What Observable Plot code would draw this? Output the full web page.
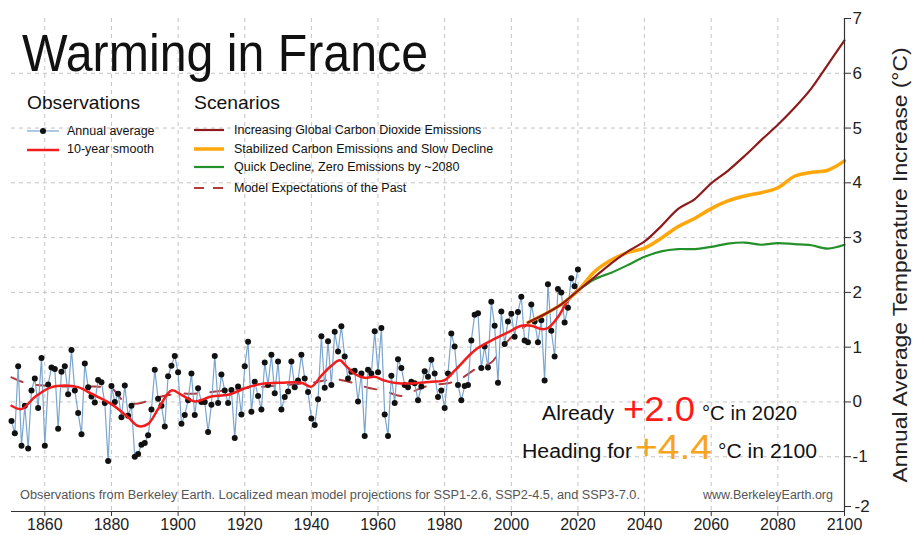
<!DOCTYPE html>
<html><head><meta charset="utf-8">
<script src="https://cdn.jsdelivr.net/npm/d3@7"></script>
<script src="https://cdn.jsdelivr.net/npm/@observablehq/plot@0.6"></script>
<style>
body{margin:0;background:#fff;font-family:"Liberation Sans",Arial,sans-serif}
#wrap{position:relative;width:914px;height:535px;overflow:hidden}
#wrap svg{position:absolute;left:0;top:0}
</style></head><body><div id="wrap"></div>
<script>
// ---------- data ----------
const obsStart = 1850;
const obsValues = [
  -0.35,-0.57,0.65,-0.80,-0.07,-0.85,0.21,0.43,-0.11,0.80,
  -0.80,0.32,0.63,0.60,-0.49,0.55,0.65,0.14,0.95,0.21,
  -0.20,-0.59,0.70,0.27,0.10,-0.01,0.40,0.36,-0.02,-1.08,
  0.29,0.00,0.15,-0.28,0.30,-0.25,-0.07,-1.00,-0.95,-0.78,
  -0.75,-0.61,-0.14,0.59,0.06,-0.07,-0.45,0.47,0.66,0.84,
  0.54,-0.40,-0.24,0.03,0.52,-0.24,0.25,0.00,0.00,-0.55,
  -0.05,0.84,-0.02,0.50,0.21,-0.02,0.22,-0.66,0.28,-0.23,
  0.65,1.10,-0.18,0.37,0.11,-0.14,0.72,0.31,0.86,0.16,
  0.74,-0.14,0.09,0.19,0.74,0.27,0.39,0.86,0.43,0.18,
  -0.30,-0.42,0.05,1.20,0.26,1.11,0.31,1.28,0.92,1.38,
  0.83,0.43,0.55,0.57,0.01,0.52,-0.62,0.59,0.52,1.29,
  0.54,1.35,-0.23,-0.62,0.48,-0.02,0.78,0.62,0.31,0.27,
  0.37,0.34,0.03,0.28,0.56,0.46,0.77,0.52,0.09,0.21,
  -0.11,0.52,1.25,1.01,0.31,0.03,0.29,0.31,1.12,1.59,
  1.62,0.62,1.01,0.63,1.83,1.39,0.35,1.65,1.06,1.47,
  1.61,1.19,1.64,1.92,1.12,1.09,1.78,1.47,1.09,1.49,
  0.39,2.15,1.30,0.83,2.06,2.00,1.45,1.72,2.26,2.11,
  2.42
];
const smoothYears  = [1850,1853,1857,1862,1866,1870,1874,1880,1885,1888,1891,1894,1898,1901,1905,1910,1915,1921,1925,1931,1937,1940,1943,1946,1948.5,1950.5,1953,1956,1959,1962,1966,1971,1976,1980,1983,1989,1994,1999,2003,2006,2009,2011,2014,2017,2020];
const smoothValues = [-0.07,-0.13,0.09,0.27,0.30,0.27,0.15,-0.04,-0.28,-0.44,-0.40,-0.13,0.21,0.13,0.01,0.10,0.13,0.27,0.33,0.35,0.35,0.28,0.48,0.66,0.76,0.65,0.51,0.44,0.46,0.39,0.34,0.34,0.37,0.40,0.57,0.94,1.12,1.27,1.39,1.39,1.33,1.35,1.55,1.85,2.05];
const pastYears  = [1850,1855,1860,1865,1870,1875,1880,1883,1885,1888,1891,1895,1900,1905,1910,1920,1930,1940,1945,1948,1953,1957,1962,1967,1972,1976,1981,1985,1990,1994,1997,2000,2005];
const pastValues = [0.45,0.33,0.30,0.28,0.29,0.28,0.25,0.05,-0.02,-0.03,0.02,0.10,0.15,0.15,0.18,0.25,0.30,0.35,0.40,0.41,0.34,0.26,0.20,0.11,0.23,0.31,0.34,0.43,0.63,0.72,0.97,1.18,1.42];
const scenarioYears = [2005,2010,2015,2020,2025,2030,2035,2040,2045,2050,2055,2060,2065,2070,2075,2080,2085,2090,2095,2100];
const ssp370 = [1.45,1.60,1.78,2.03,2.28,2.53,2.75,2.93,3.21,3.52,3.70,3.99,4.22,4.49,4.78,5.06,5.37,5.72,6.16,6.60];
const ssp245 = [1.45,1.60,1.78,2.03,2.38,2.59,2.73,2.81,2.99,3.20,3.35,3.53,3.67,3.76,3.82,3.91,4.12,4.19,4.23,4.40];
const ssp126 = [1.45,1.60,1.78,2.03,2.24,2.36,2.50,2.65,2.75,2.79,2.79,2.83,2.89,2.91,2.87,2.90,2.88,2.86,2.80,2.87];
const xTicks = [1860,1880,1900,1920,1940,1960,1980,2000,2020,2040,2060,2080,2100];
const yTicks = [-2,-1,0,1,2,3,4,5,6,7];
const legendObs = ["Annual average","10-year smooth"];
const legendScen = ["Increasing Global Carbon Dioxide Emissions","Stabilized Carbon Emissions and Slow Decline","Quick Decline, Zero Emissions by ~2080","Model Expectations of the Past"];

// ---------- tables ----------
const obs = obsValues.map((v,i)=>({year: obsStart+i, value: v}));
const smooth = smoothYears.map((y,i)=>({year:y, value:smoothValues[i]}));
const past = pastYears.map((y,i)=>({year:y, value:pastValues[i]}));
const scen = (arr)=>scenarioYears.map((y,i)=>({year:y, value:arr[i]}));

const C = {blue:"#7aa5cf", red:"#f21c1c", dark:"#8e1b1b", orange:"#ffa60a", green:"#23902a", past:"#b3393a"};
const font = "Liberation Sans, Arial, sans-serif";

const chart = Plot.plot({
  width: 914, height: 535,
  marginLeft: 11, marginRight: 70, marginTop: 18, marginBottom: 24,
  style: {fontFamily: font, fontSize: "16px", background: "transparent", color: "#222"},
  x: {domain: [1850, 2100], label: null},
  y: {domain: [-2, 7], label: null},
  marks: [
    Plot.gridX(xTicks.slice(0, -1), {stroke: "#c4c4c4", strokeOpacity: 1, strokeDasharray: "4,4"}),
    Plot.gridY(yTicks.slice(1, -1), {stroke: "#c4c4c4", strokeOpacity: 1, strokeDasharray: "4,4"}),
    Plot.line(past, {x: "year", y: "value", stroke: C.past, strokeWidth: 2, strokeDasharray: "12,14", curve: "catmull-rom"}),
    Plot.line(obs, {x: "year", y: "value", stroke: C.blue, strokeWidth: 1.2}),
    Plot.dot(obs, {x: "year", y: "value", r: 3, fill: "#111", stroke: "none"}),
    Plot.line(smooth, {x: "year", y: "value", stroke: C.red, strokeWidth: 2.5, curve: "catmull-rom"}),
    Plot.line(scen(ssp126), {x: "year", y: "value", stroke: C.green, strokeWidth: 2.2, curve: "catmull-rom"}),
    Plot.line(scen(ssp245), {x: "year", y: "value", stroke: C.orange, strokeWidth: 3.5, curve: "catmull-rom"}),
    Plot.line(scen(ssp370), {x: "year", y: "value", stroke: C.dark, strokeWidth: 2.2, curve: "catmull-rom"}),
    Plot.ruleY([-2], {stroke: "#333", strokeWidth: 1.2}),
    Plot.ruleX([2100], {stroke: "#333", strokeWidth: 1.2}),
    Plot.axisX({ticks: xTicks, tickSize: 5, tickPadding: 2, tickFormat: d => String(d), label: null, fontSize: 16, stroke: "#333"}),
    Plot.axisY({anchor: "right", ticks: yTicks.slice(1), tickSize: 6, tickPadding: 2, tickFormat: d => String(d), label: null, fontSize: 17, stroke: "#333"}),
    Plot.axisY({anchor: "right", ticks: yTicks.slice(0, 1), tickSize: 6, tickPadding: 4, dy: -5, tickFormat: d => String(d), label: null, fontSize: 17, stroke: "#333"})
  ]
});
const wrap = document.getElementById("wrap");
wrap.appendChild(chart);

// ---------- overlay: title, legend, notes ----------
const svg = d3.select(wrap).append("svg").attr("width", 914).attr("height", 535)
  .style("font-family", font).style("pointer-events", "none");
function txt(s, x, y, size, opts = {}) {
  const t = svg.append("text").attr("x", x).attr("y", y).attr("font-size", size)
    .attr("fill", opts.fill || "#111").text(s);
  if (opts.len) t.attr("textLength", opts.len).attr("lengthAdjust", "spacingAndGlyphs");
  if (opts.anchor) t.attr("text-anchor", opts.anchor);
  if (opts.transform) t.attr("transform", opts.transform);
  return t;
}
txt("Warming in France", 22, 71, 51, {len: 406});
txt("Observations", 27, 109, 19, {len: 113});
txt("Scenarios", 194, 109, 19, {len: 86});

const seg = (x1, x2, y, color, w, dash) => svg.append("line").attr("x1", x1).attr("x2", x2).attr("y1", y).attr("y2", y)
  .attr("stroke", color).attr("stroke-width", w).attr("stroke-dasharray", dash || null);
seg(27, 59, 131, C.blue, 1.2); svg.append("circle").attr("cx", 43).attr("cy", 131).attr("r", 3).attr("fill", "#111");
seg(27, 59, 150, C.red, 2.5);
txt(legendObs[0], 67, 135, 12.5);
txt(legendObs[1], 67, 153, 12.5);
const scenColors = [C.dark, C.orange, C.green, C.past];
const scenY = [130, 149, 167, 188];
scenColors.forEach((c, i) => {
  seg(194, 224, scenY[i], c, i === 1 ? 3.5 : 2.2, i === 3 ? "10,9" : null);
  txt(legendScen[i], 234, scenY[i] + 4, 12.5);
});

txt("Already", 542, 420, 20, {len: 72});
txt("+2.0", 623, 421, 35, {len: 72, fill: "#ff1a1a"});
txt("°C in 2020", 702, 420, 20, {len: 95});
txt("Heading for", 522, 458, 20, {len: 110});
txt("+4.4", 635, 459, 35, {len: 77, fill: "#f8a51d"});
txt("°C in 2100", 718, 458, 20, {len: 99});

txt("Observations from Berkeley Earth. Localized mean model projections for SSP1-2.6, SSP2-4.5, and SSP3-7.0.", 20, 499, 12.5, {len: 620, fill: "#555"});
txt("www.BerkeleyEarth.org", 703, 499, 12.5, {len: 130, fill: "#555"});
txt("Annual Average Temperature Increase (°C)", 0, 0, 20, {anchor: "middle", len: 435, fill: "#222", transform: "translate(907,265) rotate(-90)"});
</script></body></html>
